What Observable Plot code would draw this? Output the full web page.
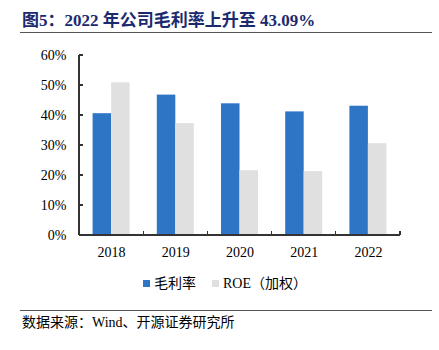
<!DOCTYPE html>
<html><head><meta charset="utf-8">
<script src="https://cdn.jsdelivr.net/npm/d3@7"></script>
<script src="https://cdn.jsdelivr.net/npm/@observablehq/plot@0.6"></script>
<style>
body{margin:0;background:#fff;}
#wrap{position:relative;width:439px;height:350px;overflow:hidden;font-family:"Liberation Serif","Noto Sans CJK SC",serif;color:#000;}
#title{position:absolute;left:22px;top:12px;font-size:17px;line-height:18px;font-weight:bold;color:#1b2a6e;white-space:nowrap;}
.rule{position:absolute;left:20px;width:412px;height:0;border-top:1.5px solid #555;}
#chart{position:absolute;left:0;top:40px;}
#legend{position:absolute;top:275px;left:0;width:439px;height:18px;font-size:14px;line-height:18px;}
.item{position:absolute;top:0;white-space:nowrap;}
.sw{display:inline-block;width:7px;height:7px;margin-right:4px;vertical-align:1px;}
#source{position:absolute;left:22px;top:315px;font-size:14px;line-height:15px;white-space:nowrap;}
</style></head><body>
<div id="wrap">
<div id="title">图5：2022 年公司毛利率上升至 43.09%</div>
<div class="rule" style="top:32px"></div>
<div id="chart"></div>
<div id="legend"></div>
<div class="rule" style="top:310px"></div>
<div id="source">数据来源：Wind、开源证券研究所</div>
</div>
<script>
const years = ["2018", "2019", "2020", "2021", "2022"];
const seriesNames = ["毛利率", "ROE（加权）"];
const grossMargin = [40.6, 46.8, 43.9, 41.2, 43.09];
const roe = [50.9, 37.3, 21.6, 21.3, 30.6];
const colors = ["#2e75c6", "#e0e0e0"];
const yTicks = [0, 10, 20, 30, 40, 50, 60];

const data = years.flatMap((yr, i) => [
  {year: yr, series: seriesNames[0], value: grossMargin[i]},
  {year: yr, series: seriesNames[1], value: roe[i]}
]);

const plot = Plot.plot({
  width: 439, height: 230,
  marginTop: 15, marginBottom: 35, marginLeft: 79, marginRight: 39,
  style: {fontFamily: '"Liberation Serif","Noto Sans CJK SC",serif', fontSize: "14px", color: "#000", background: "transparent"},
  fx: {domain: years, padding: 0, round: false, label: null},
  x: {domain: seriesNames, paddingInner: 0, paddingOuter: 0.735, round: false, axis: null},
  y: {domain: [0, 60], label: null},
  color: {domain: seriesNames, range: colors},
  marks: [
    Plot.barY(data, {fx: "year", x: "series", y: "value", fill: "series"}),
    Plot.axisY(yTicks, {tickSize: 0, tickPadding: 13, tickFormat: d => d + "%", label: null}),
    Plot.axisFx({anchor: "bottom", tickSize: 0, tickPadding: 12, label: null})
  ]
});

// axis lines and inward ticks, positioned through the plot's scales
const svg = d3.select(plot);
const ys = plot.scale("y"), fxs = plot.scale("fx");
const y0 = ys.apply(0), yTop = ys.apply(60);
const xl = fxs.range[0], xr = fxs.range[1];
const g = svg.append("g").attr("stroke", "#333").attr("stroke-width", 1.2).attr("shape-rendering", "crispEdges");
g.append("line").attr("x1", xl).attr("x2", xl).attr("y1", y0).attr("y2", yTop);
g.append("line").attr("x1", xl).attr("x2", xr).attr("y1", y0).attr("y2", y0);
yTicks.forEach(t => g.append("line").attr("x1", xl).attr("x2", xl + 4).attr("y1", ys.apply(t)).attr("y2", ys.apply(t)));
years.forEach(yr => {
  const xb = fxs.apply(yr) + fxs.bandwidth;
  g.append("line").attr("x1", xb).attr("x2", xb).attr("y1", y0).attr("y2", y0 - 4);
});
document.getElementById("chart").appendChild(plot);

// legend
const legend = document.getElementById("legend");
const legendLeft = [143, 212];
seriesNames.forEach((s, i) => {
  const it = document.createElement("div");
  it.className = "item";
  it.style.left = legendLeft[i] + "px";
  it.innerHTML = `<span class="sw" style="background:${colors[i]}"></span>${s}`;
  legend.appendChild(it);
});
</script>
</body></html>
